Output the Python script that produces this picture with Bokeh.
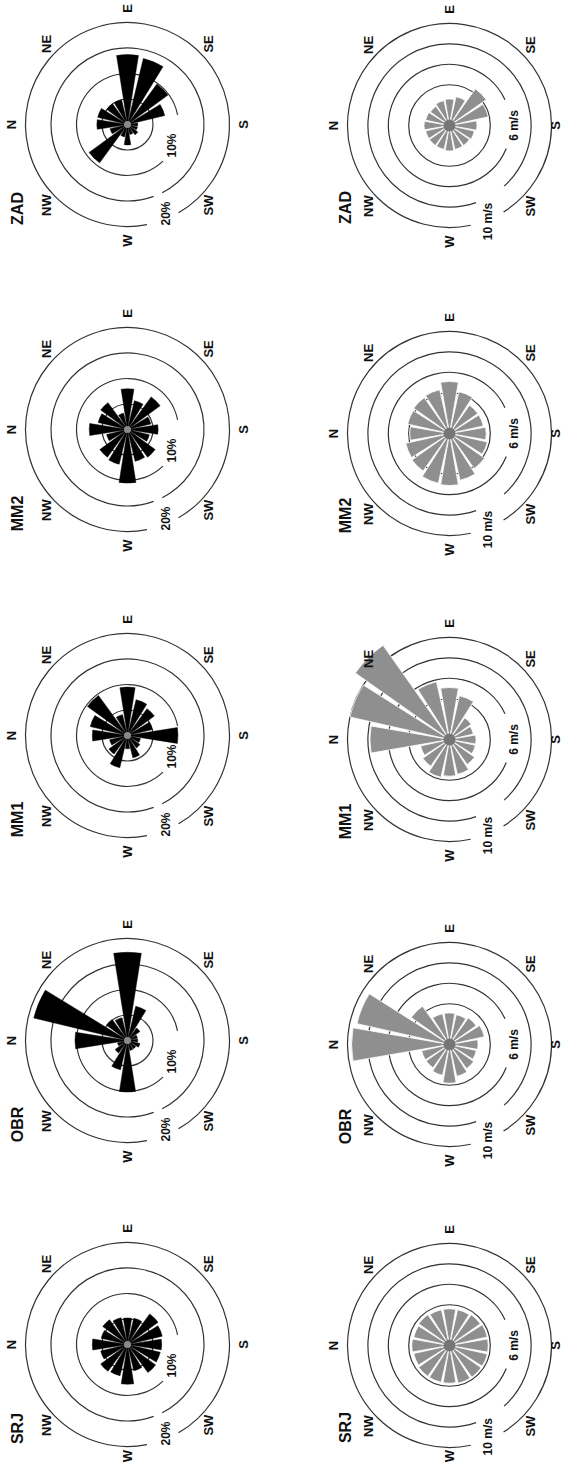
import math
from bokeh.plotting import figure
from bokeh.models import Range1d, ColumnDataSource
from bokeh.embed import file_html
from bokeh.resources import INLINE
from bokeh.core.properties import value

# ---------------- data ----------------
directions = ["N", "NNE", "NE", "ENE", "E", "ESE", "SE", "SSE",
              "S", "SSW", "SW", "WSW", "W", "WNW", "NW", "NNW"]
direction_deg = [0, 22.5, 45, 67.5, 90, 112.5, 135, 157.5,
                 180, 202.5, 225, 247.5, 270, 292.5, 315, 337.5]

stations = ["ZAD", "MM2", "MM1", "OBR", "SRJ"]

# frequency of wind direction (%)
zad_pct = [6.0, 6.0, 5.0, 5.0, 13.7, 13.3, 9.8, 7.5, 2.0, 2.0, 2.5, 2.0, 4.0, 2.5, 9.3, 3.5]
mm2_pct = [7.5, 5.9, 6.5, 3.3, 8.0, 5.8, 7.9, 4.7, 6.0, 4.4, 6.7, 6.4, 10.5, 7.0, 6.7, 4.2]
mm1_pct = [6.9, 7.5, 9.7, 4.2, 9.5, 7.2, 6.5, 5.0, 9.9, 2.6, 3.0, 4.5, 2.6, 6.5, 4.5, 3.6]
obr_pct = [10.3, 18.9, 5.1, 4.6, 17.3, 6.9, 3.0, 2.0, 2.0, 2.5, 2.0, 2.0, 10.1, 5.9, 3.0, 2.0]
srj_pct = [6.9, 5.3, 6.0, 5.4, 5.2, 5.3, 7.4, 7.0, 6.7, 6.6, 6.8, 5.3, 7.8, 6.3, 6.5, 5.4]

# mean wind speed by direction (m/s)
zad_ms = [2.5, 2.4, 2.3, 2.5, 2.6, 2.9, 4.4, 3.9, 2.7, 2.5, 2.4, 2.4, 2.5, 2.4, 2.4, 2.4]
mm2_ms = [3.9, 4.2, 4.3, 4.4, 5.1, 4.2, 3.4, 3.4, 3.6, 3.8, 4.2, 4.7, 5.1, 5.0, 4.5, 4.4]
mm1_ms = [7.8, 10.0, 11.3, 5.8, 5.1, 4.4, 2.6, 2.4, 2.6, 2.6, 3.0, 3.5, 3.6, 3.8, 3.2, 2.9]
obr_ms = [9.6, 9.3, 4.6, 3.1, 3.1, 3.0, 3.2, 3.5, 2.8, 2.7, 2.9, 3.2, 3.8, 3.1, 2.8, 2.8]
srj_ms = [3.7, 3.6, 3.7, 3.6, 3.6, 3.6, 3.7, 3.8, 3.8, 3.8, 3.8, 3.8, 3.7, 3.7, 3.7, 3.6]

pct_rings = [5, 10, 15, 20]
pct_ring_labels = ["10%", "20%"]
ms_rings = [4, 6, 8, 10]
ms_ring_labels = ["6 m/s", "10 m/s"]
compass = ["N", "NE", "E", "SE", "S", "SW", "W", "NW"]
compass_deg = [0, 45, 90, 135, 180, 225, 270, 315]

pct_series = [zad_pct, mm2_pct, mm1_pct, obr_pct, srj_pct]
ms_series = [zad_ms, mm2_ms, mm1_ms, obr_ms, srj_ms]

# ---------------- layout (page pixels) ----------------
W, H = 565, 1463
X0, X1 = 8, 8 + W
Y0, Y1 = 8, 8 + H
black_cx = 135
gray_cx = 457
black_cy = [132, 437, 743, 1048, 1352]
gray_cy = [133, 441, 747, 1052, 1353]
PX_PER_PCT = 5.1
PX_PER_MS = 10.2

FONT = value("Liberation Sans")

p = figure(width=W, height=H, x_range=Range1d(X0, X1), y_range=Range1d(-Y1, -Y0),
           output_backend="svg", toolbar_location=None, min_border=0)
p.axis.visible = False
p.grid.visible = False
p.outline_line_color = None
p.background_fill_color = "white"
p.border_fill_color = "white"


def screen_angle(d):
    # the page is rotated 90 deg counter-clockwise: N points left, E points up
    return math.pi - math.radians(d)


def rings(cx, cy, radii_px, gaps):
    for r, gap in zip(radii_px, gaps):
        if gap is None:
            p.circle(x=[cx], y=[-cy], radius=r, fill_color=None,
                     line_color="#333333", line_width=1.2)
        else:
            g1, g2 = gap
            p.arc(x=[cx], y=[-cy], radius=r, start_angle=math.radians(g2),
                  end_angle=math.radians(g1 + 360), direction="anticlock",
                  line_color="#333333", line_width=1.2)


def labels(cx, cy, texts, offs, size_px):
    xs, ys = [], []
    for t, (dx, dy) in zip(texts, offs):
        hx = size_px * 0.75               # half of the rotated text's horizontal extent (with margin)
        hy = len(t) * size_px * 0.33 + 3  # half of its vertical extent (with margin)
        x = min(max(cx + dx, X0 + hx), X1 - hx)
        y = min(max(cy + dy, Y0 + hy), Y1 - hy)
        xs.append(x)
        ys.append(-y)
    p.text(x=xs, y=ys, text=texts, angle=math.pi / 2, text_align="center",
           text_baseline="middle", text_font=FONT, text_font_style="bold",
           text_font_size=f"{size_px}px", text_color="#111111")


def compass_labels(cx, cy):
    offs = []
    for d in compass_deg:
        a = screen_angle(d)
        r = 116 if d % 90 == 0 else 114
        offs.append((r * math.cos(a), -r * math.sin(a)))
    labels(cx, cy, compass, offs, 13)


for i, st in enumerate(stations):
    # ---- frequency rose (black) ----
    cx, cy = black_cx, black_cy[i]
    rings(cx, cy, [v * PX_PER_PCT for v in pct_rings],
          [None, (-46, 11), (-70, -63), (-79, -60)])
    half = math.radians(9)
    vals = pct_series[i]
    src = ColumnDataSource(dict(
        x=[cx] * 16, y=[-cy] * 16,
        r=[v * PX_PER_PCT for v in vals],
        s=[screen_angle(d) - half for d in direction_deg],
        e=[screen_angle(d) + half for d in direction_deg]))
    p.wedge(x="x", y="y", radius="r", start_angle="s", end_angle="e", source=src,
            fill_color="black", line_color="black", line_width=0.5)
    p.circle(x=[cx], y=[-cy], radius=3.5, fill_color="#8a8a8a", line_color=None)
    labels(cx, cy, pct_ring_labels, [(44, 21), (38, 89)], 12)
    compass_labels(cx, cy)
    labels(cx, cy, [st], [(-110, 84)], 16)

    # ---- wind speed rose (gray) ----
    cx, cy = gray_cx, gray_cy[i]
    rings(cx, cy, [v * PX_PER_MS for v in ms_rings],
          [None, (-22, 25), (-71, -48), (-78, -58)])
    half = math.radians(9.8)
    vals = ms_series[i]
    src = ColumnDataSource(dict(
        x=[cx] * 16, y=[-cy] * 16,
        r=[v * PX_PER_MS for v in vals],
        s=[screen_angle(d) - half for d in direction_deg],
        e=[screen_angle(d) + half for d in direction_deg]))
    p.wedge(x="x", y="y", radius="r", start_angle="s", end_angle="e", source=src,
            fill_color="#8f8f8f", line_color="white", line_width=0.8)
    p.circle(x=[cx], y=[-cy], radius=6, fill_color="#767676", line_color=None)
    labels(cx, cy, ms_ring_labels, [(64, 0), (38, 96)], 12)
    compass_labels(cx, cy)
    labels(cx, cy, [st], [(-104, 82)], 16)

open("out.html", "w").write(file_html(p, INLINE))
